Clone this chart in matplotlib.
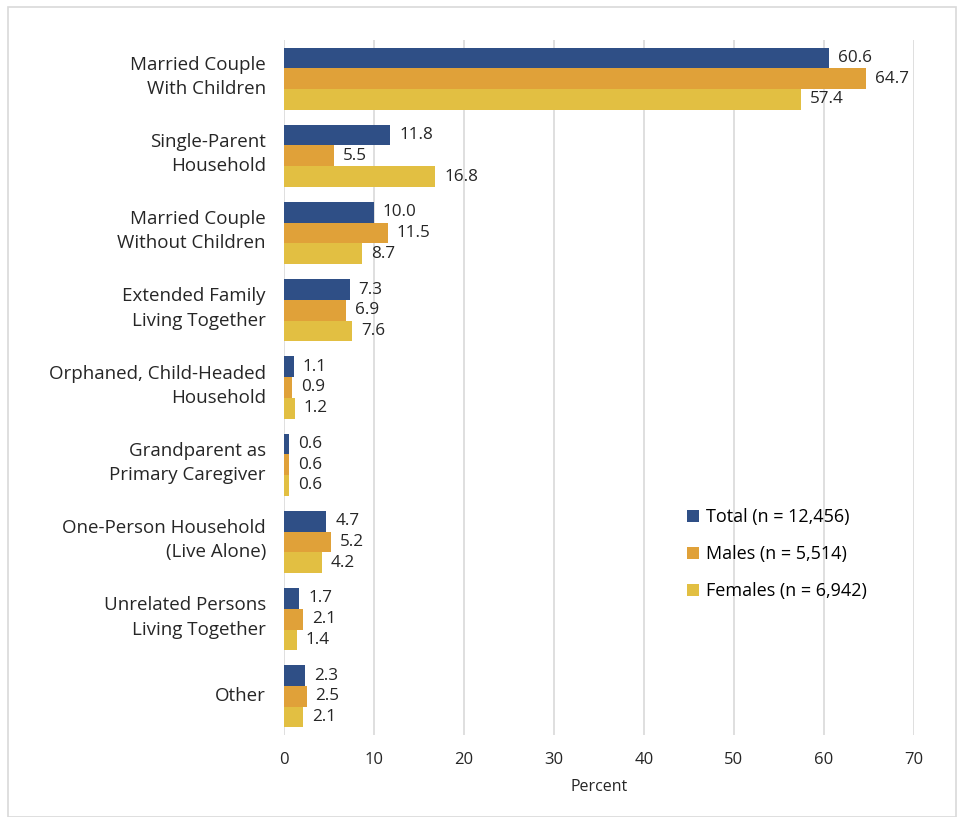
import matplotlib.pyplot as plt
import matplotlib.transforms as mtransforms
import numpy as np
from matplotlib.patches import Rectangle

plt.rcParams['font.family'] = ['Open Sans', 'DejaVu Sans']

categories = [
    "Married Couple\nWith Children",
    "Single-Parent\nHousehold",
    "Married Couple\nWithout Children",
    "Extended Family\nLiving Together",
    "Orphaned, Child-Headed\nHousehold",
    "Grandparent as\nPrimary Caregiver",
    "One-Person Household\n(Live Alone)",
    "Unrelated Persons\nLiving Together",
    "Other",
]
total = [60.6, 11.8, 10.0, 7.3, 1.1, 0.6, 4.7, 1.7, 2.3]
males = [64.7, 5.5, 11.5, 6.9, 0.9, 0.6, 5.2, 2.1, 2.5]
females = [57.4, 16.8, 8.7, 7.6, 1.2, 0.6, 4.2, 1.4, 2.1]
series_names = ["Total (n = 12,456)", "Males (n = 5,514)", "Females (n = 6,942)"]
colors = ["#2F4F86", "#E0A139", "#E2BF42"]

fig = plt.figure(figsize=(9.62, 8.17), dpi=100)
fig.patches.append(Rectangle((8 / 962, 0.0), 948 / 962, 1 - 7 / 817, transform=fig.transFigure,
                             fill=False, edgecolor="#d9d9d9", linewidth=1.2))
ax = fig.add_axes([284 / 962, 82 / 817, 630 / 962, 695 / 817])

y = np.arange(len(categories))
h = 0.268
for i, (vals, col, name) in enumerate(zip([total, males, females], colors, series_names)):
    pos = y + (i - 1) * h
    ax.barh(pos, vals, height=h, color=col, label=name, zorder=3)
    for p, v in zip(pos, vals):
        ax.text(v + 1.0, p, f"{v:.1f}", va="center", ha="left", fontsize=12.3, color="#262626")

ax.set_xlim(0, 70)
ax.set_ylim(len(categories) - 0.5, -0.5)
ax.set_xticks(np.arange(0, 71, 10))
ax.set_yticks(y)
ax.set_yticklabels(categories, fontsize=13.5, color="#262626", linespacing=1.45)
ax.tick_params(axis="x", labelsize=12, colors="#262626", length=0, pad=12)
ax.tick_params(axis="y", length=0, pad=13)

# nudge the category labels up a little
for lab in ax.get_yticklabels():
    dy = 5 if "\n" in lab.get_text() else 2
    lab.set_transform(lab.get_transform() + mtransforms.ScaledTranslation(0, dy / 72, fig.dpi_scale_trans))

ax.xaxis.grid(True, color="#d9d9d9", linewidth=1.2, zorder=0)
for s in ax.spines.values():
    s.set_visible(False)
ax.set_xlabel("Percent", fontsize=11.5, color="#262626", labelpad=8)

ax.legend(loc="upper left", bbox_to_anchor=(0.614, 0.35), frameon=False, fontsize=13,
          handlelength=0.65, handleheight=0.65, handletextpad=0.4, labelspacing=1.05)

fig.savefig("out.png", dpi=100)
